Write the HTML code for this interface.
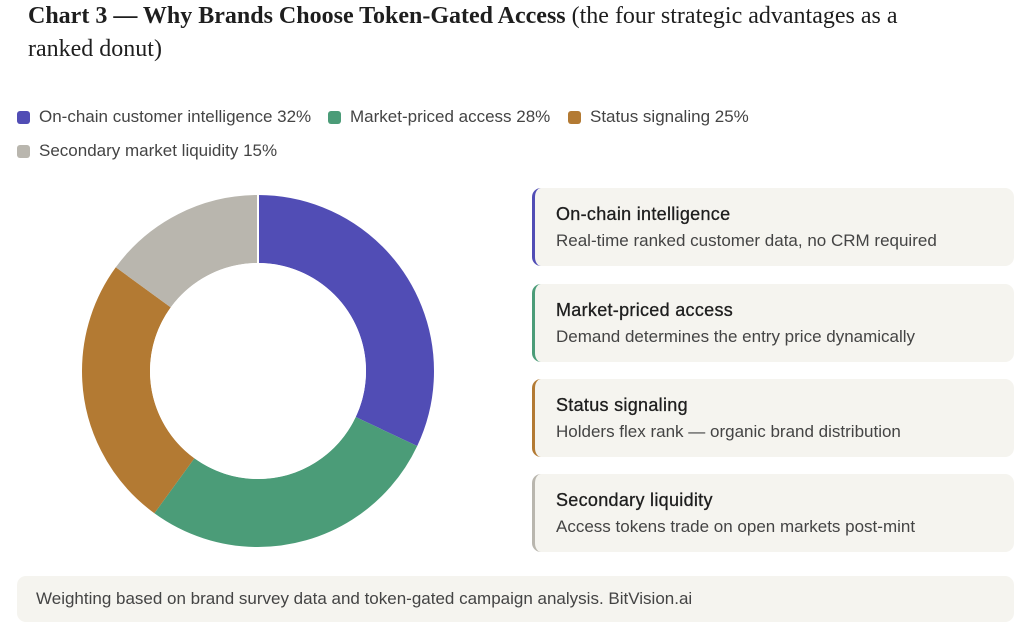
<!DOCTYPE html>
<html><head><meta charset="utf-8"><style>
body{margin:0;width:1024px;height:635px;background:#fff;font-family:"Liberation Sans",sans-serif;position:relative;overflow:hidden;color:#222}
.t{position:absolute;left:28px;top:0px;font-family:"Liberation Serif",serif;font-size:24px;line-height:33px;color:#1e1e1e;width:900px}
.t b{font-weight:bold}
.lg{position:absolute;font-size:17px;color:#444;display:flex;align-items:center}
.lg i{display:inline-block;width:13px;height:13px;border-radius:3px;margin-right:9px}
.card{position:absolute;left:532px;width:482px;height:78px;background:#f5f4ef;border-radius:9px;border-left:3px solid;box-sizing:border-box}
.card h4{margin:0;position:absolute;left:21px;top:16px;font-size:18px;letter-spacing:0.3px;font-weight:normal;color:#1e1e1e;-webkit-text-stroke:0.3px #1e1e1e}
.card p{margin:0;position:absolute;left:21px;top:43px;font-size:17px;color:#444}
.ft{position:absolute;left:17px;top:576px;width:997px;height:46px;background:#f5f4ef;border-radius:9px;font-size:17px;color:#444;line-height:46px;padding-left:19px;box-sizing:border-box}
</style></head><body>
<div class="t"><b>Chart 3 — Why Brands Choose Token-Gated Access</b> (the four strategic advantages as a ranked donut)</div>
<div class="lg" style="left:17px;top:107px"><i style="background:#514db5"></i>On-chain customer intelligence 32%</div>
<div class="lg" style="left:328px;top:107px"><i style="background:#4b9c78"></i>Market-priced access 28%</div>
<div class="lg" style="left:568px;top:107px"><i style="background:#b37a33"></i>Status signaling 25%</div>
<div class="lg" style="left:17px;top:141px"><i style="background:#b9b6ae"></i>Secondary market liquidity 15%</div>
<svg style="position:absolute;left:0;top:0" width="520" height="635">
<g transform="rotate(-90 258 371)" fill="none" stroke-width="68">
<circle cx="258" cy="371" r="142" stroke="#514db5" stroke-dasharray="285.5 1000" stroke-dashoffset="0"/>
<circle cx="258" cy="371" r="142" stroke="#4b9c78" stroke-dasharray="249.8 1000" stroke-dashoffset="-285.5"/>
<circle cx="258" cy="371" r="142" stroke="#b37a33" stroke-dasharray="223.05 1000" stroke-dashoffset="-535.3"/>
<circle cx="258" cy="371" r="142" stroke="#b9b6ae" stroke-dasharray="133.85 1000" stroke-dashoffset="-758.35"/>
</g>
<line x1="258" y1="371" x2="258" y2="190" stroke="#fff" stroke-width="2"/>
<circle cx="258" cy="371" r="108" fill="#fff"/>
</svg>
<div class="card" style="top:188px;border-color:#514db5"><h4>On-chain intelligence</h4><p>Real-time ranked customer data, no CRM required</p></div>
<div class="card" style="top:284px;border-color:#4b9c78"><h4>Market-priced access</h4><p>Demand determines the entry price dynamically</p></div>
<div class="card" style="top:379px;border-color:#b37a33"><h4>Status signaling</h4><p>Holders flex rank — organic brand distribution</p></div>
<div class="card" style="top:474px;border-color:#b9b6ae"><h4>Secondary liquidity</h4><p>Access tokens trade on open markets post-mint</p></div>
<div class="ft">Weighting based on brand survey data and token-gated campaign analysis. BitVision.ai</div>
</body></html>
